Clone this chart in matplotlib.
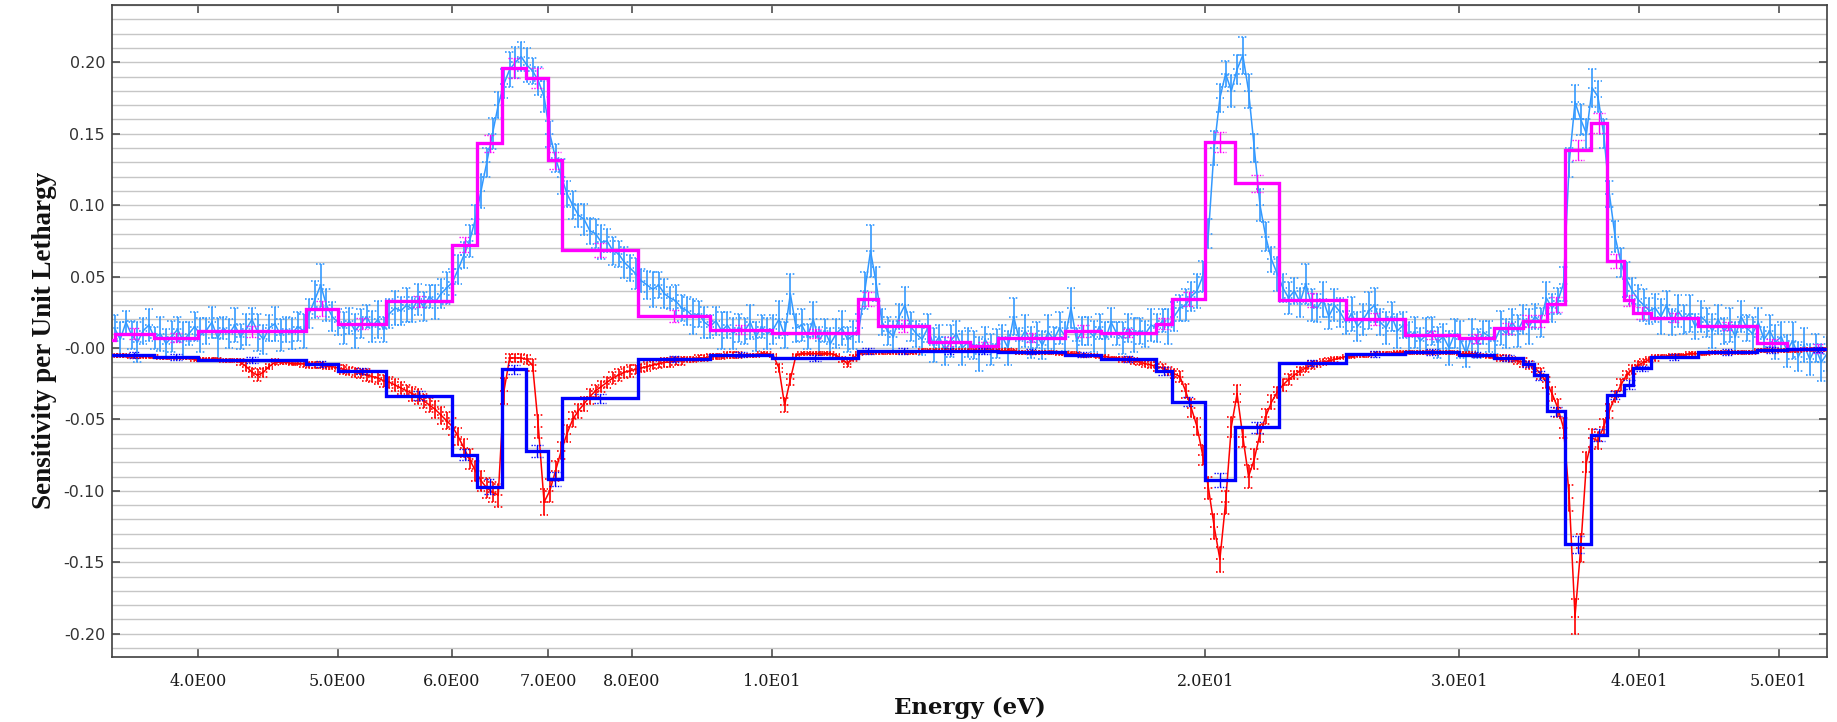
import numpy as np
import matplotlib
matplotlib.use("Agg")
import matplotlib.pyplot as plt
from matplotlib.ticker import FixedLocator, NullLocator, MultipleLocator

# Fine (equal-lethargy) group structure, eV
fine_energy = np.geomspace(3.50, 54.0, 300)

# Total sensitivity per unit lethargy, fine groups (x 1e-3)
total_milli = [
    14, 6, 18, 9, 4, 12, 16, 7, 10, 3,
    8, 13, 5, 10, 15, 9, 12, 18, 7, 14,
    10, 16, 8, 13, 20, 11, 6, 14, 17, 9,
    13, 10, 15, 12, 24, 34, 44, 30, 22, 18,
    14, 19, 12, 17, 22, 15, 20, 13, 24, 28,
    26, 30, 27, 34, 29, 36, 32, 38, 42, 46,
    55, 65, 75, 90, 110, 130, 150, 170, 185, 195,
    200, 204, 198, 194, 187, 176, 150, 133, 120, 108,
    100, 93, 90, 82, 80, 74, 75, 68, 66, 60,
    56, 52, 47, 44, 41, 44, 38, 35, 33, 28,
    26, 22, 24, 18, 15, 19, 12, 16, 10, 14,
    12, 18, 8, 15, 10, 13, 20, 9, 38, 14,
    16, 8, 20, 5, 12, 3, 10, 14, 6, 9,
    14, 40, 68, 45, 18, 12, 8, 22, 30, 15,
    10, 6, 14, 2, 8, -2, 5, 10, 0, 4,
    2, -4, 6, -1, 3, 8, 0, 22, 5, 12,
    4, 9, 2, 11, 6, 14, 8, 28, 5, 12,
    12, 8, 15, 6, 18, 10, 7, 14, 9, 12,
    10, 16, 14, 19, 15, 22, 28, 30, 36, 40,
    50, 80, 140, 175, 192, 180, 195, 205, 180, 140,
    100, 78, 62, 52, 42, 35, 40, 32, 45, 30,
    28, 34, 22, 30, 25, 18, 24, 15, 20, 26,
    30, 18, 14, 22, 12, 16, 8, 11, 5, 9,
    12, 4, 8, 0, 10, 6, -4, 9, 3, 11,
    8, 5, 14, 10, 18, 12, 20, 15, 22, 18,
    35, 28, 33, 45, 130, 172, 160, 150, 182, 176,
    150, 108, 78, 60, 48, 40, 34, 30, 26, 28,
    22, 30, 18, 26, 20, 24, 15, 22, 18, 12,
    20, 12, 16, 8, 22, 14, 10, 18, 6, 12,
    4, 8, -2, 5, -6, 2, -8, 0, -10, -4,
]
total_err_milli = [
    9, 12, 8, 10, 14, 9, 11, 8, 12, 10,
    11, 9, 13, 8, 10, 12, 9, 11, 14, 8,
    10, 12, 9, 11, 8, 13, 10, 9, 12, 11,
    9, 11, 10, 12, 10, 13, 15, 11, 10, 9,
    11, 9, 12, 10, 8, 11, 13, 9, 10, 12,
    10, 12, 9, 11, 10, 8, 12, 10, 11, 9,
    10, 9, 11, 10, 12, 10, 11, 9, 10, 12,
    11, 10, 12, 9, 10, 11, 9, 10, 12, 9,
    10, 8, 11, 9, 10, 12, 8, 10, 9, 11,
    9, 11, 8, 10, 12, 9, 10, 8, 11, 9,
    10, 12, 9, 11, 8, 10, 13, 9, 11, 10,
    9, 12, 10, 8, 11, 10, 13, 9, 14, 10,
    11, 9, 12, 10, 8, 11, 10, 12, 9, 10,
    10, 13, 18, 12, 9, 10, 11, 9, 13, 10,
    9, 11, 10, 12, 8, 10, 11, 9, 12, 10,
    10, 12, 9, 11, 10, 8, 12, 13, 9, 11,
    11, 9, 10, 12, 9, 11, 10, 14, 9, 10,
    10, 11, 9, 12, 10, 8, 11, 10, 12, 9,
    9, 11, 10, 8, 12, 10, 9, 11, 10, 12,
    11, 10, 12, 10, 9, 11, 10, 13, 12, 10,
    11, 10, 9, 12, 10, 11, 9, 10, 14, 11,
    10, 12, 9, 11, 10, 8, 12, 10, 11, 13,
    12, 9, 11, 10, 12, 9, 10, 11, 9, 12,
    10, 11, 9, 12, 10, 13, 9, 11, 10, 8,
    11, 9, 12, 10, 9, 11, 10, 12, 9, 10,
    11, 10, 9, 12, 10, 12, 11, 10, 13, 11,
    10, 9, 11, 10, 12, 9, 10, 11, 9, 10,
    12, 10, 9, 11, 10, 13, 9, 11, 10, 12,
    10, 9, 12, 10, 11, 9, 12, 10, 9, 11,
    12, 10, 11, 13, 10, 12, 11, 10, 13, 12,
]

# Capture-type (negative) component, fine groups (x 1e-3)
capture_milli = [
    -5, -5, -5, -6, -6, -6, -6, -6, -7, -7,
    -7, -7, -7, -7, -8, -8, -8, -8, -8, -9,
    -9, -9, -10, -13, -17, -19, -17, -13, -10, -10,
    -10, -11, -11, -11, -12, -12, -12, -13, -13, -14,
    -15, -16, -17, -18, -19, -20, -21, -23, -24, -26,
    -28, -30, -32, -34, -37, -40, -43, -47, -51, -55,
    -62, -70, -78, -86, -93, -98, -101, -103, -30, -7,
    -7, -7, -8, -12, -55, -108, -100, -86, -72, -60,
    -50, -44, -39, -34, -30, -27, -24, -21, -19, -17,
    -16, -15, -14, -13, -12, -11, -10, -10, -9, -9,
    -8, -8, -7, -7, -6, -6, -6, -5, -5, -5,
    -5, -5, -5, -4, -4, -5, -14, -40, -22, -5,
    -4, -4, -4, -4, -4, -4, -5, -8, -11, -7,
    -4, -3, -3, -3, -3, -3, -3, -3, -3, -3,
    -3, -2, -2, -2, -2, -2, -2, -2, -2, -2,
    -2, -2, -2, -2, -2, -2, -2, -2, -3, -3,
    -3, -3, -3, -3, -3, -4, -4, -4, -4, -5,
    -5, -5, -6, -6, -7, -7, -8, -8, -9, -10,
    -11, -12, -13, -14, -16, -18, -20, -30, -42, -55,
    -75, -98, -125, -148, -108, -55, -32, -62, -90, -78,
    -60, -48, -38, -31, -26, -22, -19, -16, -14, -12,
    -11, -10, -9, -8, -7, -6, -6, -5, -5, -5,
    -4, -4, -4, -4, -3, -3, -3, -3, -3, -3,
    -3, -3, -3, -3, -3, -4, -4, -4, -5, -5,
    -6, -6, -7, -7, -8, -9, -10, -12, -14, -18,
    -24, -32, -42, -56, -105, -188, -140, -80, -63, -65,
    -55, -44, -34, -26, -19, -15, -12, -10, -8, -7,
    -6, -6, -5, -5, -5, -4, -4, -4, -4, -3,
    -3, -3, -3, -3, -3, -3, -3, -2, -2, -2,
    -2, -2, -2, -2, -2, -1, -1, -1, -1, -1,
]
capture_err_milli = [
    1, 1, 1, 1, 1, 1, 1, 1, 1, 1,
    1, 1, 1, 1, 1, 1, 1, 1, 1, 1,
    1, 1, 2, 3, 3, 4, 3, 2, 2, 1,
    1, 1, 1, 2, 2, 2, 2, 2, 2, 2,
    3, 3, 3, 3, 4, 4, 4, 4, 4, 4,
    4, 4, 5, 5, 5, 5, 6, 6, 6, 6,
    6, 6, 7, 7, 7, 7, 7, 8, 9, 3,
    3, 3, 3, 4, 8, 9, 8, 7, 6, 6,
    5, 5, 5, 5, 4, 4, 4, 4, 4, 4,
    4, 3, 3, 3, 3, 3, 3, 3, 3, 3,
    2, 2, 2, 2, 2, 2, 2, 2, 2, 2,
    1, 1, 1, 1, 1, 1, 3, 5, 4, 1,
    1, 1, 1, 1, 1, 1, 1, 2, 2, 2,
    1, 1, 1, 1, 1, 1, 1, 1, 1, 1,
    1, 1, 1, 1, 1, 1, 1, 1, 1, 1,
    1, 1, 1, 1, 1, 1, 1, 1, 1, 1,
    1, 1, 1, 1, 1, 1, 1, 1, 1, 1,
    1, 1, 1, 1, 1, 1, 2, 2, 2, 2,
    2, 2, 3, 3, 3, 3, 4, 5, 6, 6,
    7, 8, 9, 9, 8, 7, 6, 7, 8, 7,
    6, 5, 5, 4, 4, 4, 3, 3, 3, 3,
    2, 2, 2, 2, 1, 1, 1, 1, 1, 1,
    1, 1, 1, 1, 1, 1, 1, 1, 1, 1,
    1, 1, 1, 1, 1, 1, 1, 1, 1, 1,
    1, 1, 2, 2, 2, 2, 3, 3, 3, 4,
    4, 5, 6, 7, 9, 12, 10, 7, 6, 6,
    5, 5, 4, 4, 3, 3, 3, 2, 2, 2,
    1, 1, 1, 1, 1, 1, 1, 1, 1, 1,
    1, 1, 1, 1, 1, 1, 1, 1, 1, 1,
    1, 1, 1, 1, 1, 1, 1, 1, 1, 1,
]

# Broad-group structure (eV) and collapsed sensitivities (x 1e-3)
group_edges = [
    3.30, 3.50, 3.73, 4.00, 4.75, 5.00, 5.40, 6.00, 6.25, 6.50, 6.75,
    7.00, 7.15, 8.08, 9.07, 10.0, 11.48, 11.85, 12.87, 13.73, 14.37,
    15.97, 16.93, 18.49, 18.96, 20.0, 20.96, 22.5, 25.03, 27.51, 30.0,
    31.7, 33.2, 33.8, 34.53, 35.51, 37.05, 37.98, 39.07, 39.63, 40.77,
    43.94, 48.3, 50.64, 56.0,
]
group_total_milli = [
    5.5, 10.0, 7.2, 11.7, 27.6, 17.1, 32.7, 72.4, 143.2, 196.3, 189.3,
    131.3, 68.7, 22.4, 12.8, 10.2, 34.1, 15.4, 4.4, 1.2, 7.3,
    11.8, 10.5, 17.0, 34.1, 143.9, 115.3, 33.4, 20.2, 9.2, 6.7,
    13.7, 18.9, 18.9, 30.5, 138.5, 157.5, 60.8, 33.4, 24.4, 21.2,
    15.4, 3.4, -0.5,
]
group_total_err_milli = [
    3, 4, 3, 4, 5, 4, 4, 5, 6, 7, 7,
    6, 5, 4, 3, 3, 5, 4, 3, 3, 3,
    4, 3, 4, 5, 7, 6, 5, 4, 3, 3,
    4, 4, 4, 5, 7, 7, 5, 4, 4, 3,
    3, 3, 3,
]
group_capture_milli = [
    -5.0, -5.0, -6.5, -8.6, -11.0, -16.2, -33.4, -74.7, -97.0, -15.0, -72.0,
    -91.7, -35.2, -7.8, -4.6, -7.0, -2.0, -2.0, -2.0, -2.0, -2.5,
    -4.6, -7.8, -16.2, -37.5, -92.6, -55.5, -10.4, -4.0, -3.0, -4.6,
    -7.2, -11.1, -19.1, -44.3, -137.4, -61.0, -33.0, -25.6, -14.3, -6.2,
    -3.0, -1.5, -1.0,
]
group_capture_err_milli = [
    2, 2, 2, 2, 2, 2, 3, 4, 5, 3, 4,
    5, 3, 2, 2, 2, 2, 2, 2, 2, 2,
    2, 2, 3, 3, 5, 4, 2, 2, 2, 2,
    2, 2, 3, 3, 6, 4, 3, 3, 2, 2,
    2, 2, 2,
]

x_ticks = [4, 5, 6, 7, 8, 10, 20, 30, 40, 50]
x_tick_labels = ["4.0E00", "5.0E00", "6.0E00", "7.0E00", "8.0E00",
                 "1.0E01", "2.0E01", "3.0E01", "4.0E01", "5.0E01"]
y_ticks = [-0.20, -0.15, -0.10, -0.05, 0.0, 0.05, 0.10, 0.15, 0.20]
y_tick_labels = ["-0.20", "-0.15", "-0.10", "-0.05", "-0.00",
                 "0.05", "0.10", "0.15", "0.20"]

LIGHT_BLUE = "#3399ff"
RED = "#ff0000"
MAGENTA = "#ff00ff"
BLUE = "#0000ff"


def milli(values):
    return np.asarray(values, dtype=float) / 1000.0


def dotted_errorbars(ax, x, y, err, color, half_dec, lw, z):
    """Vertical error bars with dotted caps and a dotted centre mark."""
    x = np.asarray(x, dtype=float)
    lo, hi = y - err, y + err
    f = 10.0 ** half_dec
    ax.vlines(x, lo, hi, colors=color, linewidth=lw, zorder=z)
    for level in (lo, hi, y):
        ax.hlines(level, x / f, x * f, colors=color, linewidth=lw,
                  linestyles=(0, (1.0, 1.0)), zorder=z)


fig = plt.figure(figsize=(18.37, 7.22), dpi=100)
ax = fig.add_axes([0.06097, 0.08934, 0.93359, 0.90415])

ax.set_xscale("log")
ax.set_xlim(3.486, 54.0)
ax.set_ylim(-0.2167, 0.2403)

# fine-group results: connecting trace plus uncertainties
total = milli(total_milli)
capture = milli(capture_milli)
ax.plot(fine_energy, total, color=LIGHT_BLUE, linewidth=1.1, zorder=2)
dotted_errorbars(ax, fine_energy, total, milli(total_err_milli),
                 LIGHT_BLUE, 0.003, 1.2, 2)
ax.plot(fine_energy, capture, color=RED, linewidth=1.1, zorder=3)
dotted_errorbars(ax, fine_energy, capture, milli(capture_err_milli),
                 RED, 0.003, 1.2, 3)

# broad-group histograms
edges = np.asarray(group_edges)
centres = np.sqrt(edges[:-1] * edges[1:])
ax.stairs(milli(group_total_milli), edges, color=MAGENTA, linewidth=2.4,
          baseline=None, zorder=4)
dotted_errorbars(ax, centres, milli(group_total_milli),
                 milli(group_total_err_milli), MAGENTA, 0.004, 1.0, 4)
ax.stairs(milli(group_capture_milli), edges, color=BLUE, linewidth=2.4,
          baseline=None, zorder=5)
dotted_errorbars(ax, centres, milli(group_capture_milli),
                 milli(group_capture_err_milli), BLUE, 0.004, 1.0, 5)

# axes, ticks and grid
ax.xaxis.set_major_locator(FixedLocator(x_ticks))
ax.xaxis.set_minor_locator(NullLocator())
ax.set_xticklabels(x_tick_labels, fontfamily="DejaVu Serif", fontsize=11.5,
                   color="#1a1a1a")
ax.yaxis.set_major_locator(FixedLocator(y_ticks))
ax.set_yticklabels(y_tick_labels, fontfamily="DejaVu Sans", fontsize=11.5,
                   color="#333333")
ax.yaxis.set_minor_locator(MultipleLocator(0.01))

ax.tick_params(axis="both", which="major", direction="in", top=True,
               right=True, length=5.5, width=1.1, color="#404040")
ax.tick_params(axis="x", which="major", pad=11)
ax.tick_params(axis="y", which="major", pad=5)
ax.tick_params(axis="y", which="minor", length=0, left=True, right=True)

ax.grid(True, axis="y", which="both", color="#c6c6c6", linewidth=1.0,
        zorder=0)
ax.set_axisbelow(True)
for side in ax.spines.values():
    side.set_color("#404040")
    side.set_linewidth(1.2)

fig.text(0.024, 0.529, "Sensitivity per Unit Lethargy", rotation=90,
         ha="center", va="center", fontfamily="Liberation Serif",
         fontweight="bold", fontsize=19.5, color="#111111")
fig.text(0.528, 0.0194, "Energy (eV)", ha="center", va="center",
         fontfamily="DejaVu Serif", fontweight="bold", fontsize=16.5,
         color="#111111")

fig.savefig("out.png", dpi=100)
